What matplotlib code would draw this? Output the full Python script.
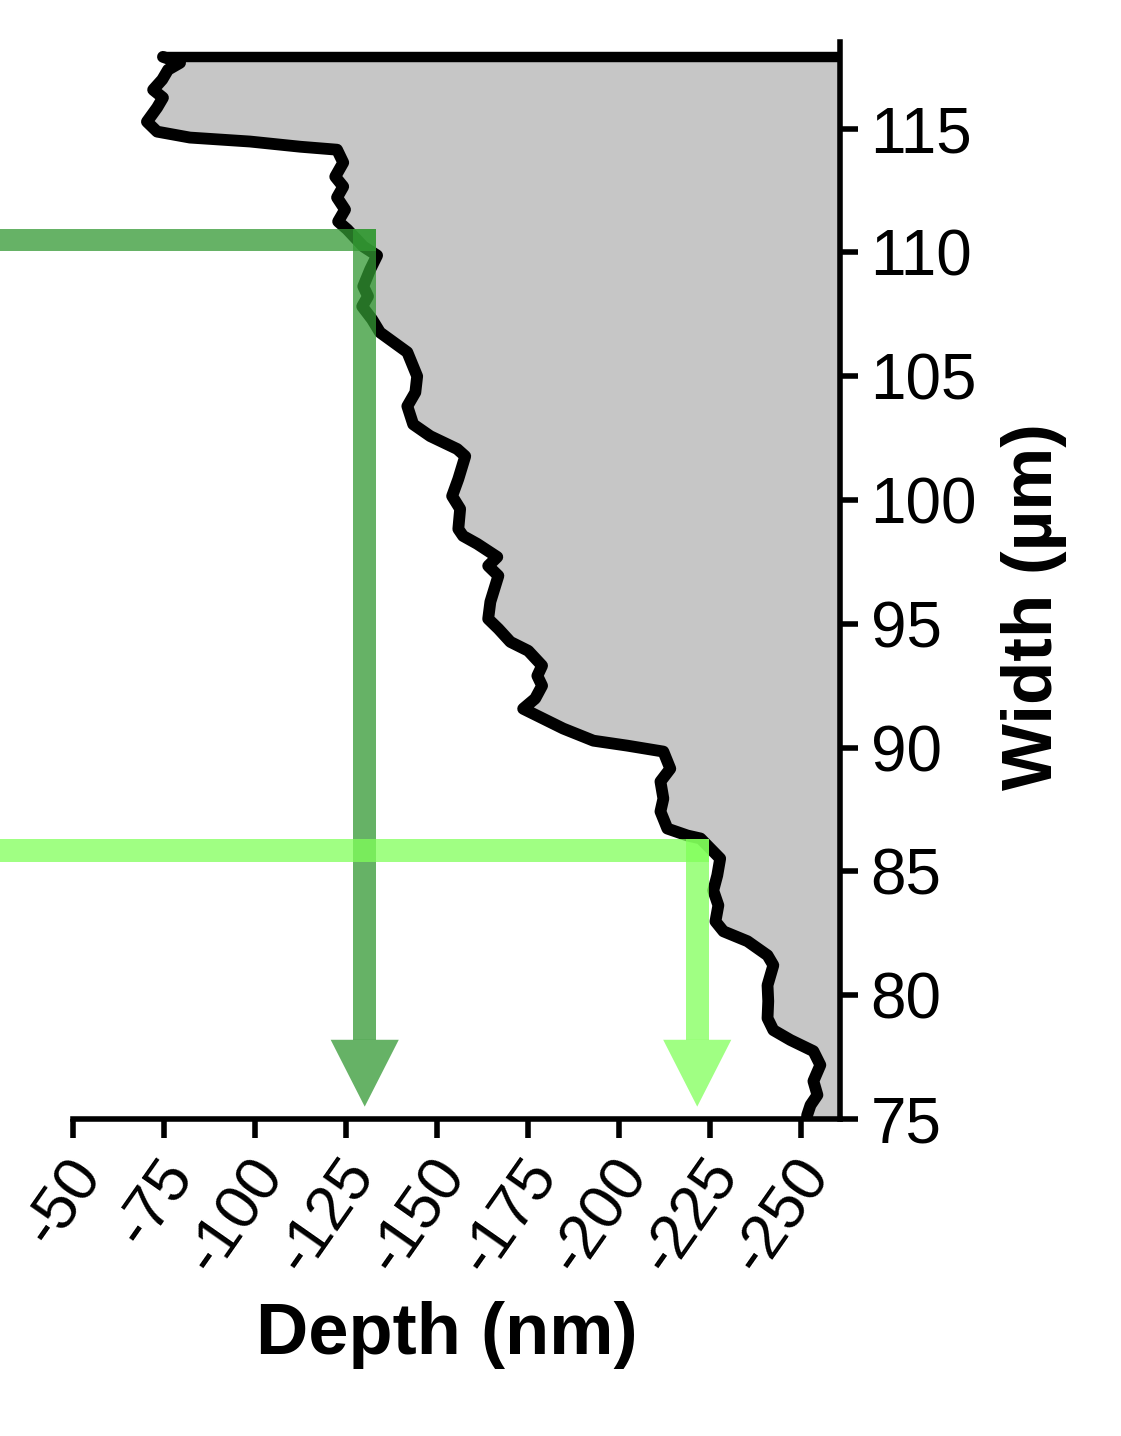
import numpy as np
import matplotlib.pyplot as plt
from matplotlib.transforms import ScaledTranslation

plt.rcParams['font.family'] = ['Liberation Sans', 'DejaVu Sans']
plt.rcParams['axes.unicode_minus'] = False

# etch profile, from the top edge down to 75 um
depth = [-74.7, -79.4, -76.1, -74.5, -72.0, -74.7, -73.1, -70.3, -73.1, -82.1,
         -98.6, -112.4, -122.5, -124.2, -122.0, -124.2, -122.5, -124.7, -122.8, -125.3,
         -129.7, -133.5, -131.6, -129.7, -131.0, -129.4, -132.1, -134.3, -141.8, -144.5,
         -144.0, -141.8, -143.4, -148.1, -155.5, -157.7, -155.8, -154.1, -156.3, -155.8,
         -157.1, -161.0, -166.5, -164.0, -166.8, -164.6, -164.0, -166.8, -170.1, -175.0,
         -178.8, -177.5, -178.8, -176.9, -173.6, -179.1, -184.6, -192.9, -202.2, -212.1,
         -214.0, -211.3, -212.1, -211.3, -213.2, -218.7, -222.3, -227.7, -226.9, -225.8,
         -227.2, -226.4, -228.6, -235.2, -240.7, -242.3, -240.7, -240.9, -240.7, -242.3,
         -247.0, -253.3, -255.2, -253.3, -254.4, -252.5, -251.6, -251.5]
width = [117.90, 117.66, 117.38, 116.98, 116.57, 116.25, 115.85, 115.28, 114.88, 114.64,
         114.48, 114.27, 114.15, 113.63, 113.06, 112.66, 112.22, 111.73, 111.25, 110.93,
         110.24, 109.88, 109.31, 108.63, 108.23, 107.82, 107.30, 106.77, 105.97, 105.00,
         104.35, 103.79, 103.06, 102.58, 102.06, 101.77, 100.85, 100.16, 99.64, 98.83,
         98.55, 98.23, 97.70, 97.34, 96.94, 95.89, 95.20, 94.80, 94.27, 93.91,
         93.31, 92.90, 92.50, 91.98, 91.57, 91.17, 90.77, 90.28, 90.08, 89.84,
         89.15, 88.63, 87.94, 87.42, 86.73, 86.45, 86.33, 85.52, 84.84, 84.23,
         83.63, 82.98, 82.58, 82.18, 81.61, 81.21, 80.40, 79.76, 79.07, 78.59,
         78.19, 77.74, 77.18, 76.53, 75.97, 75.56, 75.16, 75.00]

# the two marker arrows: depth where they turn down, width they come in at
arrow_depth = [-130.1, -221.4]
arrow_width = [110.5, 85.85]
arrow_colors = [(0.2, 0.6, 0.2), (0.5, 1.0, 0.35)]

x_ticks = [-50, -75, -100, -125, -150, -175, -200, -225, -250]
y_ticks = [75, 80, 85, 90, 95, 100, 105, 110, 115]

x_left, x_right = -50, -260.6
y_bottom, y_top = 75, 118.5


def draw_arrow(ax, d, w, color):
    # shaft half thickness in nm / um, head size
    sh, sv = 3.1, 0.45
    head_base, head_tip, head_half = 78.2, 75.5, 9.35
    kw = dict(color=color, alpha=0.75, lw=0, clip_on=False, zorder=5)
    ax.fill([-25, d - sh, d - sh, -25], [w - sv, w - sv, w + sv, w + sv], **kw)
    ax.fill([d + sh, d - sh, d - sh, d + sh], [head_base, head_base, w + sv, w + sv], **kw)
    ax.fill([d + head_half, d - head_half, d], [head_base, head_base, head_tip], **kw)


fig = plt.figure(figsize=(11.21, 14.36), dpi=100)
ax = fig.add_axes([73 / 1121, 1 - 1119 / 1436, 767 / 1121, 1077 / 1436])

ax.fill_betweenx(width, depth, x_right, color='#c6c6c6', lw=0, zorder=1)
ax.plot(depth, width, color='k', lw=8.5, solid_joinstyle='round', solid_capstyle='round', zorder=3)
ax.plot([depth[0], x_right], [width[0], width[0]], color='k', lw=7.5, solid_capstyle='butt', zorder=3)

for d, w, c in zip(arrow_depth, arrow_width, arrow_colors):
    draw_arrow(ax, d, w, c)

ax.set_xlim(x_left, x_right)
ax.set_ylim(y_bottom, y_top)

for s in ['top', 'left']:
    ax.spines[s].set_visible(False)
for s in ['bottom', 'right']:
    ax.spines[s].set_linewidth(4)
    ax.spines[s].set_capstyle('projecting')

ax.yaxis.tick_right()
ax.set_yticks(y_ticks)
ax.set_xticks(x_ticks)
ax.tick_params(axis='y', direction='out', length=13, width=4, labelsize=46, pad=9)
ax.tick_params(axis='x', direction='out', length=14, width=4, labelsize=45, pad=19)
offset = ScaledTranslation(0.16, 0, fig.dpi_scale_trans)
for lab in ax.get_xticklabels():
    lab.set_rotation(55)
    lab.set_ha('right')
    lab.set_va('center')
    lab.set_rotation_mode('anchor')
    lab.set_transform(lab.get_transform() + offset)

fig.text(447 / 1121, 1 - 1335 / 1436, 'Depth (nm)', fontsize=52, fontweight='bold',
         ha='center', va='center')
fig.text(1052 / 1121, 1 - 607 / 1436, 'Width (µm)', fontsize=51, fontweight='bold',
         rotation=90, rotation_mode='anchor', ha='center', va='baseline')

fig.savefig('out.png', dpi=100, facecolor='white')
